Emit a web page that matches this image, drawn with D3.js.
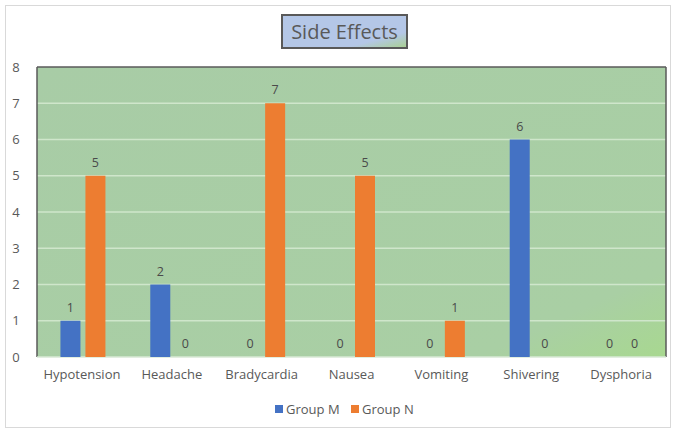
<!DOCTYPE html>
<html>
<head>
<meta charset="utf-8">
<script src="https://cdn.jsdelivr.net/npm/d3@7"></script>
<style>
  body { margin: 0; background: #fff; }
  text { font-family: "Open Sans", "Noto Sans", sans-serif; }
</style>
</head>
<body>
<svg id="chart" width="676" height="432"></svg>
<script>
const categories = ["Hypotension", "Headache", "Bradycardia", "Nausea", "Vomiting", "Shivering", "Dysphoria"];
const seriesNames = ["Group M", "Group N"];
const groupM = [1, 2, 0, 0, 0, 6, 0];
const groupN = [5, 0, 7, 5, 1, 0, 0];
const yTicks = [0, 1, 2, 3, 4, 5, 6, 7, 8];
const colors = ["#4472c4", "#ed7d31"];
const title = "Side Effects";

const svg = d3.select("#chart");
const W = 676, H = 432;
const margin = { left: 37, right: 10, top: 67, bottom: 75 };
const pw = W - margin.left - margin.right;
const ph = H - margin.top - margin.bottom;

// outer border
svg.append("rect").attr("x", 5.5).attr("y", 5.5).attr("width", 665).attr("height", 422)
  .attr("fill", "#fff").attr("stroke", "#d9d9d9").attr("stroke-width", 1);

const defs = svg.append("defs");
const pg = defs.append("linearGradient").attr("id", "plotGrad")
  .attr("x1", "0%").attr("y1", "0%").attr("x2", "100%").attr("y2", "100%");
pg.append("stop").attr("offset", "0%").attr("stop-color", "#a8cca6");
pg.append("stop").attr("offset", "85%").attr("stop-color", "#a9cfa4");
pg.append("stop").attr("offset", "100%").attr("stop-color", "#a8d890");

const tg = defs.append("linearGradient").attr("id", "titleGrad")
  .attr("x1", "0%").attr("y1", "0%").attr("x2", "100%").attr("y2", "100%");
tg.append("stop").attr("offset", "0%").attr("stop-color", "#b4c7e7");
tg.append("stop").attr("offset", "75%").attr("stop-color", "#b4c7e7");
tg.append("stop").attr("offset", "100%").attr("stop-color", "#a9d18e");

const g = svg.append("g").attr("transform", `translate(${margin.left},${margin.top})`);

const x = d3.scaleBand().domain(categories).range([0, pw]).paddingInner(0).paddingOuter(0);
const y = d3.scaleLinear().domain([0, 8]).range([ph, 0]);
const barW = 20, gap = 5;

g.append("rect").attr("x", 0).attr("y", 0).attr("width", pw).attr("height", ph)
  .attr("fill", "url(#plotGrad)");

// gridlines
g.selectAll(".grid").data(yTicks.filter(d => d > 0 && d < 8)).enter().append("line")
  .attr("x1", 0).attr("x2", pw).attr("y1", d => y(d)).attr("y2", d => y(d))
  .attr("stroke", "#cfe6cb").attr("stroke-width", 1.5);

// border: top, left, right dark; bottom light
g.append("line").attr("x1", 0).attr("x2", pw).attr("y1", 0).attr("y2", 0).attr("stroke", "#5a5a5a").attr("stroke-width", 1.5);
g.append("line").attr("x1", 0).attr("x2", 0).attr("y1", 0).attr("y2", ph).attr("stroke", "#5a5a5a").attr("stroke-width", 1.5);
g.append("line").attr("x1", pw).attr("x2", pw).attr("y1", 0).attr("y2", ph).attr("stroke", "#5a5a5a").attr("stroke-width", 1.5);
g.append("line").attr("x1", 0).attr("x2", pw).attr("y1", ph).attr("y2", ph).attr("stroke", "#d9e8d6").attr("stroke-width", 1.5);

const series = [groupM, groupN];
series.forEach((vals, si) => {
  const off = x.bandwidth() / 2 - barW - gap / 2 + si * (barW + gap) + 1;
  g.selectAll(".bar" + si).data(categories).enter().append("rect")
    .attr("x", (c) => x(c) + off)
    .attr("y", (c, i) => y(vals[i]))
    .attr("width", barW)
    .attr("height", (c, i) => ph - y(vals[i]))
    .attr("fill", colors[si]);
  g.selectAll(".lab" + si).data(categories).enter().append("text")
    .attr("x", (c) => x(c) + off + barW / 2)
    .attr("y", (c, i) => y(vals[i]) - 9)
    .attr("text-anchor", "middle")
    .attr("font-size", 12.5).attr("fill", "#4a4a4a")
    .text((c, i) => vals[i]);
});

// y axis labels
const yAxis = d3.axisLeft(y).tickValues(yTicks).tickSize(0).tickPadding(21);
const ya = g.append("g").call(yAxis);
ya.select(".domain").remove();
ya.selectAll("text").attr("font-size", 13).attr("fill", "#595959")
  .attr("font-family", "'Open Sans', 'Noto Sans', sans-serif").attr("text-anchor", "middle");

// x axis labels
const xAxis = d3.axisBottom(x).tickSize(0).tickPadding(13);
const xa = g.append("g").attr("transform", `translate(0,${ph})`).call(xAxis);
xa.select(".domain").remove();
xa.selectAll("text").attr("font-size", 13).attr("fill", "#595959")
  .attr("font-family", "'Open Sans', 'Noto Sans', sans-serif");

// title
svg.append("rect").attr("x", 282).attr("y", 15).attr("width", 125).attr("height", 33)
  .attr("fill", "url(#titleGrad)").attr("stroke", "#595959").attr("stroke-width", 2);
svg.append("text").attr("x", 344.5).attr("y", 39).attr("text-anchor", "middle")
  .attr("font-size", 20).attr("fill", "#595959").text(title);

// legend
const legX = [275, 351];
seriesNames.forEach((n, i) => {
  svg.append("rect").attr("x", legX[i]).attr("y", 405).attr("width", 8).attr("height", 8).attr("fill", colors[i]);
  svg.append("text").attr("x", legX[i] + 11).attr("y", 414).attr("font-size", 13)
    .attr("fill", "#595959").text(n);
});
</script>
</body>
</html>
